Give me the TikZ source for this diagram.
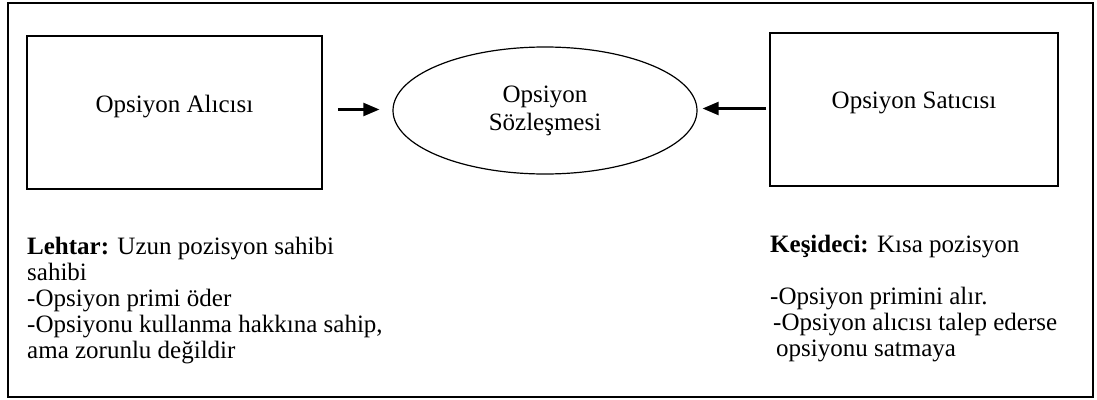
\documentclass[tikz,border=0pt]{standalone}
\usepackage{fontspec}
\setmainfont{Liberation Serif}
\usetikzlibrary{shapes.geometric,arrows.meta,positioning,calc}

\begin{document}
\begin{tikzpicture}[x=1pt, y=-1pt,
  party/.style = {draw, line width=1.6pt, shape=rectangle, minimum height=153pt, text depth=18pt, font=\fontsize{25}{30}\selectfont},
  deal/.style = {draw, line width=1.2pt, shape=ellipse, minimum width=304pt, minimum height=127pt, align=center, font=\fontsize{25}{28}\selectfont},
  role/.style = {anchor=north west, align=left, inner sep=0pt, font=\fontsize{25}{26}\selectfont},
  link/.style = {line width=2.2pt, -{Triangle[length=16pt, width=13pt]}}]
\useasboundingbox (0,0) rectangle (1097,399);
\draw[line width=1.8pt] (8,3) rectangle (1093,397);

\node[party, minimum width=295pt] (alici) at (174.5,112.5) {Opsiyon Alıcısı};
\node[party, minimum width=288pt] (satici) at (914,109.5) {Opsiyon Satıcısı};
\node[deal] (sozlesme) at (545,110.5) {Opsiyon\\Sözleşmesi};

\draw[link] ($(alici.east |- sozlesme.west)+(15,-1)$) -- ($(sozlesme.west)+(-13,-1)$);
\draw[link] ($(satici.west |- sozlesme.east)+(-3,-2)$) -- ($(sozlesme.east)+(5,-2)$);

% lehtar / kesideci notes
\node[role] (lehtar) at (27,237) {\textbf{Lehtar:} Uzun pozisyon sahibi\\sahibi\\-Opsiyon primi öder\\-Opsiyonu kullanma hakkına sahip,\\ama zorunlu değildir};
\node[role] (kesideci) at (770,235) {\textbf{Keşideci:} Kısa pozisyon\\[26pt]-Opsiyon primini alır.\\\hspace{3pt}-Opsiyon alıcısı talep ederse\\\hspace{6pt}opsiyonu satmaya};
\end{tikzpicture}
\end{document}
